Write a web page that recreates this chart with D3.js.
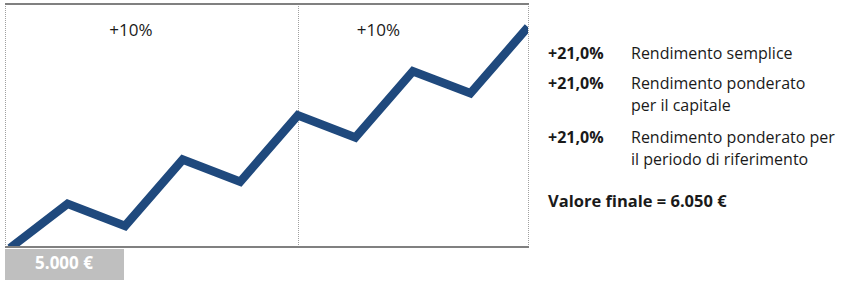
<!DOCTYPE html>
<html>
<head>
<meta charset="utf-8">
<script src="https://cdn.jsdelivr.net/npm/d3@7"></script>
<style>
  body { margin: 0; background: #fff; }
  text { font-family: "Open Sans", sans-serif; }
</style>
</head>
<body>
<div id="chart"></div>
<script>
// data (chart units, start = 0, end = 100)
const steps = [0, 1, 2, 3, 4, 5, 6, 7, 8, 9];
const values = [0, 20, 10, 40, 30, 60, 50, 80, 70, 100];
const dividerSteps = [5];
const periodLabels = ["+10%", "+10%"];
const periodLabelSteps = [2.1, 6.4];
const startLabel = "5.000 €";
const returnValues = ["+21,0%", "+21,0%", "+21,0%"];
const returnNames = [
    ["Rendimento semplice"],
    ["Rendimento ponderato", "per il capitale"],
    ["Rendimento ponderato per", "il periodo di riferimento"]
];
const finalLabel = "Valore finale = 6.050 €";

const width = 847, height = 285;
const plot = {left: 5, right: 528, top: 4, bottom: 247};

const svg = d3.select("#chart")
  .append("svg")
    .attr("width", width)
    .attr("height", height);

const x = d3.scaleLinear()
    .domain([0, steps.length - 1])
    .range([plot.left + 5, plot.right]);

const y = d3.scaleLinear()
    .domain([0, 100])
    .range([plot.bottom + 1, 27]);

// clip so the thick line stops at the frame
svg.append("clipPath")
    .attr("id", "plotclip")
  .append("rect")
    .attr("x", plot.left)
    .attr("y", plot.top)
    .attr("width", plot.right - plot.left)
    .attr("height", plot.bottom - plot.top);

// dotted verticals: frame sides + period divider
const vlines = [plot.left, Math.round(x(dividerSteps[0])), plot.right];
svg.append("g")
  .selectAll("line")
  .data(vlines)
  .join("line")
    .attr("x1", d => d + 0.5)
    .attr("x2", d => d + 0.5)
    .attr("y1", plot.top)
    .attr("y2", plot.bottom)
    .attr("stroke", "#a0a0a0")
    .attr("stroke-width", 1)
    .attr("stroke-dasharray", "1,1");

// the line
const line = d3.line()
    .x((d, i) => x(steps[i]))
    .y(d => y(d));

svg.append("path")
    .datum(values)
    .attr("clip-path", "url(#plotclip)")
    .attr("d", line)
    .attr("fill", "none")
    .attr("stroke", "#1f497d")
    .attr("stroke-width", 8.5)
    .attr("stroke-linejoin", "miter");

// top and bottom frame
svg.append("g")
  .selectAll("line")
  .data([plot.top, plot.bottom])
  .join("line")
    .attr("x1", plot.left)
    .attr("x2", plot.right + 1)
    .attr("y1", d => d)
    .attr("y2", d => d)
    .attr("stroke", "#808080")
    .attr("stroke-width", 2);

// period labels
svg.append("g")
  .selectAll("text")
  .data(periodLabels)
  .join("text")
    .attr("x", (d, i) => x(periodLabelSteps[i]))
    .attr("y", 36)
    .attr("text-anchor", "middle")
    .style("font-size", "17px")
    .attr("fill", "#1a1a1a")
    .text(d => d);

// start value box
svg.append("rect")
    .attr("x", plot.left)
    .attr("y", 249)
    .attr("width", 119)
    .attr("height", 31)
    .attr("fill", "#bfbfbf");
svg.append("text")
    .attr("x", plot.left + 59)
    .attr("y", 269)
    .attr("text-anchor", "middle")
    .style("font-size", "17px")
    .style("font-weight", "bold")
    .attr("fill", "#fff")
    .text(startLabel);

// right side text
const rowY = [59, 89, 143];
const legend = svg.append("g");
returnValues.forEach((v, i) => {
    legend.append("text")
        .attr("x", 548)
        .attr("y", rowY[i])
        .style("font-size", "16px")
        .style("font-weight", "bold")
        .attr("fill", "#1a1a1a")
        .text(v);
    const t = legend.append("text")
        .attr("x", 631)
        .attr("y", rowY[i])
        .style("font-size", "16px")
        .attr("fill", "#1a1a1a");
    returnNames[i].forEach((s, j) => {
        t.append("tspan")
            .attr("x", 631)
            .attr("dy", j === 0 ? 0 : 22)
            .text(s);
    });
});

legend.append("text")
    .attr("x", 548)
    .attr("y", 207)
    .style("font-size", "16.5px")
    .style("font-weight", "bold")
    .attr("fill", "#1a1a1a")
    .text(finalLabel);
</script>
</body>
</html>
